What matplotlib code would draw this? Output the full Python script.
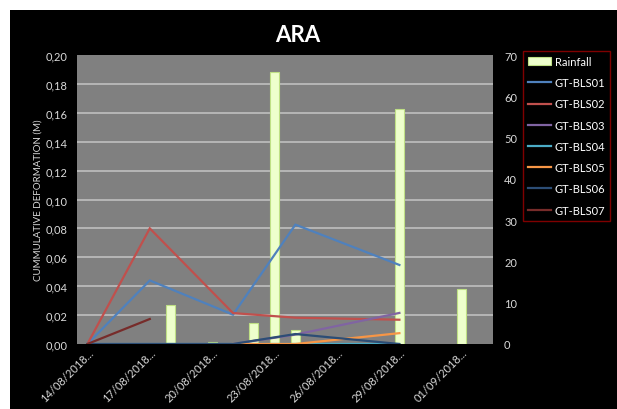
import matplotlib
matplotlib.use("Agg")
import matplotlib.pyplot as plt
import matplotlib.dates as mdates
from matplotlib.patches import Rectangle
from matplotlib.ticker import FixedLocator, FuncFormatter
import numpy as np
import pandas as pd

plt.rcParams['font.family'] = ['Lato', 'DejaVu Sans']

# Rainfall (mm), secondary axis
rain_dates = ['18/08/2018', '20/08/2018', '22/08/2018', '23/08/2018',
              '24/08/2018', '29/08/2018', '01/09/2018']
rain_mm = [9.4, 0.4, 5.0, 66.0, 3.4, 57.0, 13.3]

# Cumulative deformation (m) per instrument
survey_dates = ['14/08/2018', '17/08/2018', '21/08/2018', '24/08/2018', '29/08/2018']
gt_bls01 = [0.000, 0.044, 0.0203, 0.0826, 0.0547]
gt_bls02 = [0.000, 0.080, 0.0214, 0.0182, 0.0168]
gt_bls03 = [None, None, 0.000, 0.0065, 0.0215]
gt_bls04 = [0.000, 0.000, 0.000, 0.000, 0.000]
gt_bls05 = [None, None, 0.000, 0.000, 0.0075]
gt_bls06 = [0.000, 0.000, 0.000, 0.0069, 0.000]
gt_bls07 = [0.000, 0.0173, None, None, None]

series_names = ['GT-BLS01', 'GT-BLS02', 'GT-BLS03', 'GT-BLS04',
                'GT-BLS05', 'GT-BLS06', 'GT-BLS07']
series_values = [gt_bls01, gt_bls02, gt_bls03, gt_bls04, gt_bls05, gt_bls06, gt_bls07]
series_colors = ['#4F81BD', '#C0504D', '#8064A2', '#4BACC6',
                 '#F79646', '#2C4D75', '#772C2A']

tick_dates = ['14/08/2018', '17/08/2018', '20/08/2018', '23/08/2018',
              '26/08/2018', '29/08/2018', '01/09/2018']

def to_dt(lst):
    return pd.to_datetime(lst, format='%d/%m/%Y')

W, H = 617, 410
fig = plt.figure(figsize=(W / 100, H / 100), dpi=100, facecolor='white')
fig.patches.append(Rectangle((10 / W, 0), 1 - 10 / W, 1 - 11 / H,
                             transform=fig.transFigure, facecolor='black',
                             edgecolor='none', zorder=0))

left, right, top, bottom = 77, 493, 56, 345
ax = fig.add_axes([left / W, 1 - bottom / H, (right - left) / W, (bottom - top) / H])
ax2 = ax.twinx()
ax.set_zorder(2)
ax2.set_zorder(1)
ax.patch.set_visible(False)
ax2.patch.set_visible(True)
ax2.patch.set_facecolor('#808080')

txt_col = '#D9D9D9'

# Rainfall bars
bars = ax2.bar(to_dt(rain_dates), rain_mm, width=0.43, color='#EEFFCC',
               edgecolor='#BFE085', linewidth=0.8, label='Rainfall', zorder=3)
ax2.set_ylim(0, 70)
ax2.yaxis.set_major_locator(FixedLocator(np.arange(0, 71, 10)))
ax2.yaxis.set_minor_locator(FixedLocator(np.arange(7, 71, 7)))
ax2.grid(which='minor', axis='y', color='#BFBFBF', linewidth=1.2, zorder=1)
ax2.set_axisbelow(True)
ax2.tick_params(axis='y', which='both', length=0, pad=8, labelsize=8, labelcolor=txt_col)

# Deformation lines
d = to_dt(survey_dates)
lines = []
for name, vals, col in zip(series_names, series_values, series_colors):
    v = np.array([np.nan if x is None else x for x in vals], dtype=float)
    m = ~np.isnan(v)
    ln, = ax.plot(d[m], v[m], color=col, linewidth=1.6, label=name,
                  solid_joinstyle='miter')
    lines.append(ln)

ax.set_ylim(0, 0.20)
ax.set_yticks(np.arange(0, 0.2001, 0.02))
ax.yaxis.set_major_formatter(FuncFormatter(lambda v, p: f"{v:.2f}".replace('.', ',')))
ax.tick_params(axis='y', length=0, pad=7, labelsize=8, labelcolor=txt_col)

x0 = pd.Timestamp('2018-08-13 12:00')
x1 = pd.Timestamp('2018-09-02 12:00')
ax.set_xlim(x0, x1)
td = to_dt(tick_dates)
ax.set_xticks(td)
ax.set_xticklabels([t + '...' for t in tick_dates])
ax.tick_params(axis='x', length=0, pad=2, labelsize=8, labelcolor=txt_col)
for lab in ax.get_xticklabels():
    lab.set_rotation(45)
    lab.set_ha('right')
    lab.set_va('top')
    lab.set_rotation_mode('anchor')

for a in (ax, ax2):
    for s in a.spines.values():
        s.set_visible(False)

ax.set_ylabel('CUMMULATIVE DEFORMATION (M)', color=txt_col, fontsize=7)
ax.yaxis.set_label_coords(-0.083, 0.5)

fig.text(298 / W, 1 - 35 / H, 'ARA', ha='center', va='center',
         fontsize=16, fontweight='bold', color='white')

leg = fig.legend([bars] + lines, ['Rainfall'] + series_names,
                 loc='upper left', bbox_to_anchor=(523 / W, 1 - 52 / H),
                 bbox_transform=fig.transFigure, frameon=True, fancybox=False,
                 facecolor='black', edgecolor='#A00000', fontsize=8,
                 labelcolor='white', labelspacing=0.92, handlelength=2.1,
                 handletextpad=0.3, borderpad=0.45, borderaxespad=0)
leg.get_frame().set_linewidth(1.0)

fig.savefig('out.png', dpi=100, facecolor=fig.get_facecolor())
